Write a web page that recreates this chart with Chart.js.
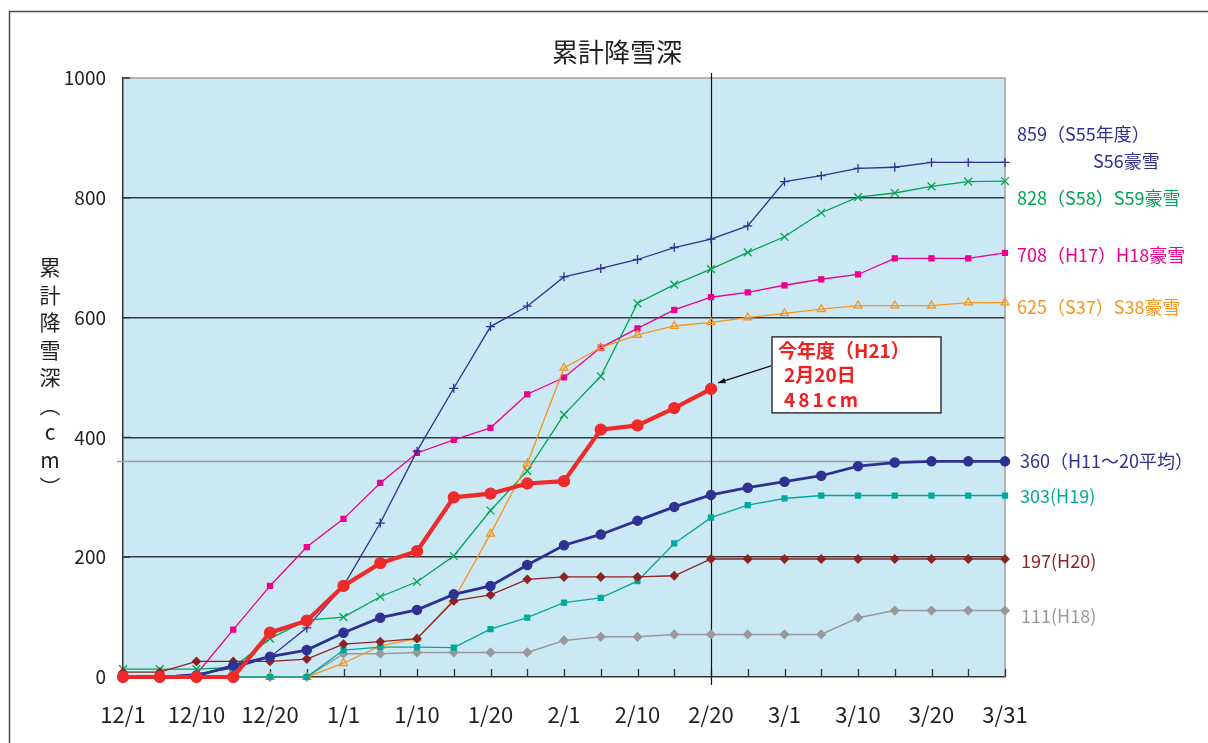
<!DOCTYPE html>
<html>
<head>
<meta charset="utf-8">
<script src="https://cdn.jsdelivr.net/npm/chart.js@4/dist/chart.umd.min.js"></script>
<style>
  html, body { margin: 0; padding: 0; background: #fff; }
  #wrap { width: 1208px; height: 743px; }
</style>
</head>
<body>
<div id="wrap"><canvas id="c" width="1208" height="743"></canvas></div>
<script>
// 半旬ごとの日付（12/1〜3/31）
const labels = ['12/1','12/5','12/10','12/15','12/20','12/25','1/1','1/5','1/10','1/15','1/20','1/25',
                '2/1','2/5','2/10','2/15','2/20','2/25','3/1','3/5','3/10','3/15','3/20','3/25','3/31'];

// 累計降雪深 (cm)
const s55 = [0,0,5,15,33,82,152,257,377,482,585,619,668,682,697,717,731,753,827,837,849,851,859,859,859];
const s58 = [13,13,13,16,64,95,100,134,159,202,278,344,438,502,624,655,681,709,735,775,801,808,819,827,828];
const h17 = [0,0,5,79,152,217,264,324,374,396,416,472,500,550,582,613,634,642,654,664,672,699,699,699,708];
const s37 = [0,0,0,0,0,0,23,52,64,129,239,356,516,550,571,586,592,600,607,614,620,620,620,625,625];
const h21 = [0,0,0,0,74,94,152,190,210,300,306,323,327,413,420,449,481,null,null,null,null,null,null,null,null];
const avg = [0,0,2,19,34,45,74,99,112,138,152,187,220,238,261,284,304,316,326,336,352,358,360,360,360];
const h19 = [0,0,0,0,0,0,45,50,50,49,80,99,124,132,160,223,266,287,298,303,303,303,303,303,303];
const h20 = [8,8,26,26,26,30,55,59,64,127,137,163,167,167,167,169,197,197,197,197,197,197,197,197,197];
const h18 = [0,0,0,0,0,0,39,39,41,41,41,41,61,67,67,71,71,71,71,71,99,111,111,111,111];

// 平均値の基準線と今年度の基準日
const avgLevel = 360;
const todayLabel = '2/20';

const yTicks = [0, 200, 400, 600, 800, 1000];

const FONT = '"Noto Sans CJK JP", "Noto Sans", sans-serif';
const INK = '#231f20';

const C = {
  navy: '#2e3192',
  green: '#00a651',
  magenta: '#ec008c',
  orange: '#f7941d',
  red: '#ee2a2a',
  teal: '#00a99d',
  maroon: '#8e2323',
  gray: '#999999'
};

function ds(label, data, color, opt) {
  return Object.assign({
    label, data,
    borderColor: color,
    backgroundColor: color,
    pointBorderColor: color,
    pointBackgroundColor: color,
    borderWidth: 1.3,
    pointBorderWidth: 1.3,
    pointRadius: 4,
    spanGaps: false,
    clip: false,
    order: 5
  }, opt);
}

const datasets = [
  ds('今年度(H21)', h21, C.red, { borderWidth: 4.2, pointStyle: 'circle', pointRadius: 5.5, order: 0 }),
  ds('H11～20平均', avg, C.navy, { borderWidth: 2.8, pointStyle: 'circle', pointRadius: 4.6, order: 1 }),
  ds('S55年度', s55, C.navy, { pointStyle: 'cross', pointRadius: 4.5, order: 6 }),
  ds('S58', s58, C.green, { pointStyle: 'crossRot', pointRadius: 5.5, order: 5 }),
  ds('H17', h17, C.magenta, { pointStyle: 'rect', pointRadius: 3.5, order: 7 }),
  ds('S37', s37, C.orange, { pointStyle: 'triangle', pointRadius: 4.6, pointBackgroundColor: 'rgba(0,0,0,0)', order: 4 }),
  ds('H19', h19, C.teal, { pointStyle: 'rect', pointRadius: 3.5, order: 3 }),
  ds('H20', h20, C.maroon, { pointStyle: 'rectRot', pointRadius: 4, order: 2 }),
  ds('H18', h18, C.gray, { pointStyle: 'rectRot', pointRadius: 4.2, borderWidth: 1.5, order: 8 })
];

// 右側の系列名ラベル（最終値からの縦のずれ dy）
const sideLabels = [
  { text: '859（S55年度）', data: s55, color: C.navy, dx: 12, dy: -28 },
  { text: 'S56豪雪', data: s55, color: C.navy, dx: 88, dy: -1 },
  { text: '828（S58）S59豪雪', data: s58, color: C.green, dx: 12, dy: 17 },
  { text: '708（H17）H18豪雪', data: h17, color: C.magenta, dx: 12, dy: 2 },
  { text: '625（S37）S38豪雪', data: s37, color: C.orange, dx: 12, dy: 5 },
  { text: '360（H11～20平均）', data: avg, color: C.navy, dx: 15, dy: 0 },
  { text: '303(H19)', data: h19, color: C.teal, dx: 15, dy: 1 },
  { text: '197(H20)', data: h20, color: C.maroon, dx: 16, dy: 2 },
  { text: '111(H18)', data: h18, color: C.gray, dx: 16, dy: 6 }
];

const deco = {
  id: 'deco',
  beforeDraw(chart) {
    const { ctx, chartArea: a } = chart;
    ctx.save();
    ctx.fillStyle = '#fff';
    ctx.fillRect(0, 0, chart.width, chart.height);
    ctx.strokeStyle = '#4a4a4a';
    ctx.lineWidth = 1.5;
    ctx.strokeRect(9.5, 11.5, chart.width + 20, chart.height + 20);
    ctx.fillStyle = '#cbe9f4';
    ctx.fillRect(a.left, a.top, a.right - a.left, a.bottom - a.top);
    ctx.restore();
  },
  beforeDatasetsDraw(chart) {
    const { ctx, chartArea: a, scales: { x, y } } = chart;
    ctx.save();
    // 上・右の枠
    ctx.strokeStyle = '#a0a0a0';
    ctx.lineWidth = 1.5;
    ctx.beginPath();
    ctx.moveTo(a.left, a.top); ctx.lineTo(a.right, a.top); ctx.lineTo(a.right, a.bottom);
    ctx.stroke();
    // 内向きの目盛り
    ctx.strokeStyle = '#333';
    ctx.lineWidth = 1.3;
    ctx.beginPath();
    labels.forEach((_, i) => {
      const px = Math.round(x.getPixelForValue(i)) + 0.5;
      ctx.moveTo(px, a.bottom); ctx.lineTo(px, a.bottom - 8);
    });
    yTicks.forEach(v => {
      const py = y.getPixelForValue(v);
      ctx.moveTo(a.left, py); ctx.lineTo(a.left + 7, py);
    });
    ctx.stroke();
    // 平均値の基準線
    const ay = Math.round(y.getPixelForValue(avgLevel)) + 0.5;
    ctx.strokeStyle = '#9c9c9c';
    ctx.lineWidth = 1.5;
    ctx.beginPath();
    ctx.moveTo(a.left - 6, ay); ctx.lineTo(a.right, ay);
    ctx.stroke();
    // 基準日の縦線
    const tx = Math.round(x.getPixelForValue(labels.indexOf(todayLabel))) + 0.5;
    ctx.strokeStyle = '#111';
    ctx.lineWidth = 1.2;
    ctx.beginPath();
    ctx.moveTo(tx, a.top - 5); ctx.lineTo(tx, a.bottom + 8);
    ctx.stroke();
    ctx.restore();
  },
  afterDatasetsDraw(chart) {
    const { ctx, chartArea: a, scales: { x, y } } = chart;
    ctx.save();
    // タイトル
    ctx.fillStyle = INK;
    ctx.font = '26px ' + FONT;
    ctx.textAlign = 'center';
    ctx.textBaseline = 'middle';
    ctx.fillText('累計降雪深', chart.width / 2 + 13, a.top - 26);

    // 縦書きの軸タイトル
    const chars = ['累', '計', '降', '雪', '深', '︵', 'c', 'm', '︶'];
    ctx.font = '21px ' + FONT;
    const cy = (a.top + a.bottom) / 2;
    const step = 27.5;
    chars.forEach((ch, i) => {
      ctx.fillText(ch, 50, cy + (i - (chars.length - 1) / 2) * step);
    });

    // 右側の系列名
    ctx.textAlign = 'left';
    ctx.font = '18px ' + FONT;
    sideLabels.forEach(l => {
      const v = l.data[l.data.length - 1];
      ctx.fillStyle = l.color;
      ctx.fillText(l.text, a.right + l.dx, y.getPixelForValue(v) + l.dy);
    });

    // 今年度の吹き出し
    const idx = labels.indexOf(todayLabel);
    const px = x.getPixelForValue(idx);
    const py = y.getPixelForValue(h21[idx]);
    const bx = px + 61, by = py - 52, bw = 169, bh = 76;
    ctx.fillStyle = '#fff';
    ctx.fillRect(bx, by, bw, bh);
    ctx.strokeStyle = '#333';
    ctx.lineWidth = 1.5;
    ctx.strokeRect(bx, by, bw, bh);
    ctx.fillStyle = '#ee2020';
    ctx.font = 'bold 19px ' + FONT;
    ctx.textBaseline = 'middle';
    ctx.fillText('今年度（H21）', bx + 6, by + 14);
    ctx.fillText('2月20日', bx + 12, by + 38);
    ctx.letterSpacing = '3px';
    ctx.fillText('481cm', bx + 12, by + 63);
    ctx.letterSpacing = '0px';

    // 矢印
    const x0 = bx - 1, y0 = py - 23, x1 = px + 7, y1 = py - 6;
    ctx.strokeStyle = '#111';
    ctx.lineWidth = 1.2;
    ctx.beginPath();
    ctx.moveTo(x0, y0); ctx.lineTo(x1, y1);
    ctx.stroke();
    const ang = Math.atan2(y1 - y0, x1 - x0);
    ctx.fillStyle = '#111';
    ctx.beginPath();
    ctx.moveTo(x1, y1);
    ctx.lineTo(x1 - 8 * Math.cos(ang - 0.35), y1 - 8 * Math.sin(ang - 0.35));
    ctx.lineTo(x1 - 8 * Math.cos(ang + 0.35), y1 - 8 * Math.sin(ang + 0.35));
    ctx.closePath();
    ctx.fill();
    ctx.restore();
  }
};

new Chart(document.getElementById('c'), {
  type: 'line',
  data: { labels, datasets },
  options: {
    responsive: false,
    animation: false,
    devicePixelRatio: 1,
    layout: { padding: { top: 78, right: 203, bottom: 0, left: 0 } },
    elements: { line: { tension: 0 } },
    plugins: { legend: { display: false }, tooltip: { enabled: false } },
    scales: {
      x: {
        type: 'category',
        offset: false,
        grid: { display: false, drawTicks: false },
        border: { display: true, color: '#333', width: 1.5 },
        ticks: {
          autoSkip: false,
          maxRotation: 0,
          minRotation: 0,
          padding: 24,
          color: INK,
          font: { family: FONT, size: 22 },
          callback: (v, i) => (i % 2 === 0 ? labels[i] : '')
        },
        afterFit: s => { s.height = 66; }
      },
      y: {
        min: 0,
        max: 1000,
        afterBuildTicks: s => { s.ticks = yTicks.map(v => ({ value: v })); },
        grid: {
          drawTicks: false,
          lineWidth: 1.5,
          color: c => (c.tick && c.tick.value > 0 && c.tick.value < 1000 ? '#3a3a3a' : 'rgba(0,0,0,0)')
        },
        border: { display: true, color: '#333', width: 1.5 },
        ticks: {
          padding: 17,
          color: INK,
          font: { family: FONT, size: 19 },
          callback: v => String(v)
        },
        afterFit: s => { s.width = 123; }
      }
    }
  },
  plugins: [deco]
});
</script>
</body>
</html>
